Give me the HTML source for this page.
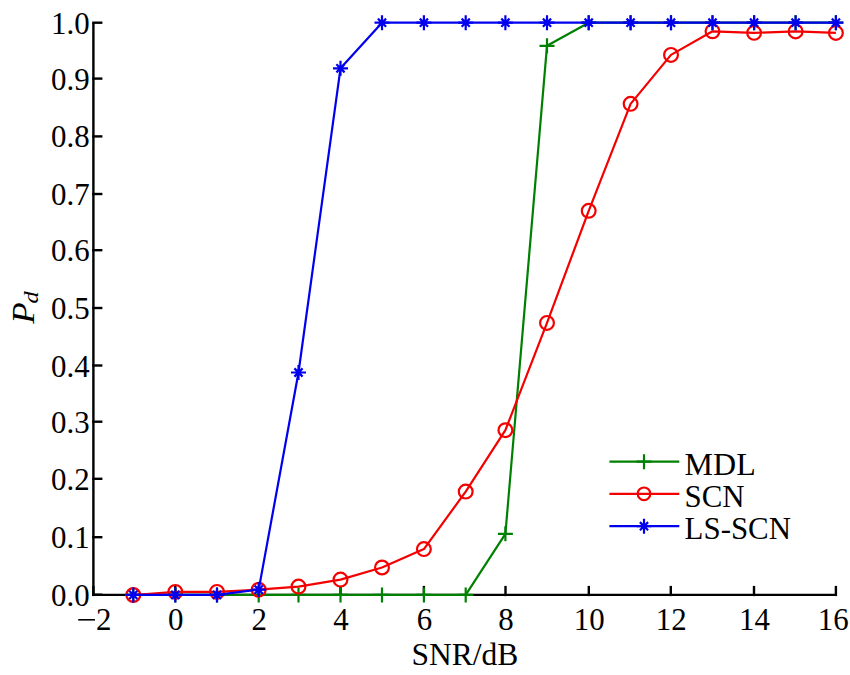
<!DOCTYPE html>
<html><head><meta charset="utf-8"><style>
html,body{margin:0;padding:0;background:#fff;width:850px;height:675px;overflow:hidden}
svg{display:block}
text{font-family:"Liberation Serif",serif;font-size:32px;fill:#000}
</style></head><body>
<svg width="850" height="675" viewBox="0 0 850 675">
<path d="M93.40 22.7V594.90H835.9" stroke="#000" stroke-width="2.4" fill="none" stroke-linejoin="miter"/>
<path d="M92.20 594.70H102.40" stroke="#000" stroke-width="2.4"/>
<path d="M92.20 537.20H102.40" stroke="#000" stroke-width="2.4"/>
<path d="M92.20 478.80H102.40" stroke="#000" stroke-width="2.4"/>
<path d="M92.20 421.70H102.40" stroke="#000" stroke-width="2.4"/>
<path d="M92.20 365.50H102.40" stroke="#000" stroke-width="2.4"/>
<path d="M92.20 308.00H102.40" stroke="#000" stroke-width="2.4"/>
<path d="M92.20 250.20H102.40" stroke="#000" stroke-width="2.4"/>
<path d="M92.20 194.00H102.40" stroke="#000" stroke-width="2.4"/>
<path d="M92.20 136.40H102.40" stroke="#000" stroke-width="2.4"/>
<path d="M92.20 78.60H102.40" stroke="#000" stroke-width="2.4"/>
<path d="M92.20 22.70H102.40" stroke="#000" stroke-width="2.4"/>
<path d="M93.40 596.10V585.90" stroke="#000" stroke-width="2.4"/>
<path d="M175.30 596.10V585.90" stroke="#000" stroke-width="2.4"/>
<path d="M258.70 596.10V585.90" stroke="#000" stroke-width="2.4"/>
<path d="M340.50 596.10V585.90" stroke="#000" stroke-width="2.4"/>
<path d="M423.90 596.10V585.90" stroke="#000" stroke-width="2.4"/>
<path d="M505.50 596.10V585.90" stroke="#000" stroke-width="2.4"/>
<path d="M588.80 596.10V585.90" stroke="#000" stroke-width="2.4"/>
<path d="M670.80 596.10V585.90" stroke="#000" stroke-width="2.4"/>
<path d="M754.00 596.10V585.90" stroke="#000" stroke-width="2.4"/>
<path d="M835.90 596.10V585.90" stroke="#000" stroke-width="2.4"/>
<text transform="translate(89.60 605.70) scale(0.965 1)" text-anchor="end">0.0</text>
<text transform="translate(89.60 548.20) scale(0.965 1)" text-anchor="end">0.1</text>
<text transform="translate(89.60 489.80) scale(0.965 1)" text-anchor="end">0.2</text>
<text transform="translate(89.60 432.70) scale(0.965 1)" text-anchor="end">0.3</text>
<text transform="translate(89.60 376.50) scale(0.965 1)" text-anchor="end">0.4</text>
<text transform="translate(89.60 319.00) scale(0.965 1)" text-anchor="end">0.5</text>
<text transform="translate(89.60 261.20) scale(0.965 1)" text-anchor="end">0.6</text>
<text transform="translate(89.60 205.00) scale(0.965 1)" text-anchor="end">0.7</text>
<text transform="translate(89.60 147.40) scale(0.965 1)" text-anchor="end">0.8</text>
<text transform="translate(89.60 89.60) scale(0.965 1)" text-anchor="end">0.9</text>
<text transform="translate(89.60 33.70) scale(0.965 1)" text-anchor="end">1.0</text>
<path d="M78.2 619.8H95" stroke="#000" stroke-width="1.6"/>
<text transform="translate(95.90 630.30) scale(0.965 1)">2</text>
<text transform="translate(175.80 630.30) scale(0.965 1)" text-anchor="middle">0</text>
<text transform="translate(259.20 630.30) scale(0.965 1)" text-anchor="middle">2</text>
<text transform="translate(341.00 630.30) scale(0.965 1)" text-anchor="middle">4</text>
<text transform="translate(424.40 630.30) scale(0.965 1)" text-anchor="middle">6</text>
<text transform="translate(506.00 630.30) scale(0.965 1)" text-anchor="middle">8</text>
<text transform="translate(589.30 630.30) scale(0.965 1)" text-anchor="middle">10</text>
<text transform="translate(671.30 630.30) scale(0.965 1)" text-anchor="middle">12</text>
<text transform="translate(754.50 630.30) scale(0.965 1)" text-anchor="middle">14</text>
<text transform="translate(833.20 630.30) scale(0.965 1)" text-anchor="middle">16</text>
<text transform="translate(464.80 665.30) scale(0.985 1)" text-anchor="middle">SNR/dB</text>
<g transform="translate(34.3 323.7) rotate(-90) scale(1.1 1)"><text font-style="italic" font-size="31">P<tspan font-size="22" dy="3.4" dx="-1.2">d</tspan></text></g>
<polyline points="133.30,594.90 175.30,594.90 217.00,594.90 258.70,594.90 298.50,594.90 340.50,594.90 382.00,594.90 423.90,594.90 465.70,594.90 505.40,533.85 547.00,45.80 588.70,22.70 630.60,22.70 671.00,22.70 712.50,22.70 754.10,22.70 795.60,22.70 835.90,22.70" stroke="#008000" stroke-width="2.2" fill="none" stroke-linejoin="round"/>
<path d="M125.80 594.90H140.80M133.30 587.40V602.40" stroke="#008000" stroke-width="2.2" fill="none"/>
<path d="M167.80 594.90H182.80M175.30 587.40V602.40" stroke="#008000" stroke-width="2.2" fill="none"/>
<path d="M209.50 594.90H224.50M217.00 587.40V602.40" stroke="#008000" stroke-width="2.2" fill="none"/>
<path d="M251.20 594.90H266.20M258.70 587.40V602.40" stroke="#008000" stroke-width="2.2" fill="none"/>
<path d="M291.00 594.90H306.00M298.50 587.40V602.40" stroke="#008000" stroke-width="2.2" fill="none"/>
<path d="M333.00 594.90H348.00M340.50 587.40V602.40" stroke="#008000" stroke-width="2.2" fill="none"/>
<path d="M374.50 594.90H389.50M382.00 587.40V602.40" stroke="#008000" stroke-width="2.2" fill="none"/>
<path d="M416.40 594.90H431.40M423.90 587.40V602.40" stroke="#008000" stroke-width="2.2" fill="none"/>
<path d="M458.20 594.90H473.20M465.70 587.40V602.40" stroke="#008000" stroke-width="2.2" fill="none"/>
<path d="M497.90 533.85H512.90M505.40 526.35V541.35" stroke="#008000" stroke-width="2.2" fill="none"/>
<path d="M539.50 45.80H554.50M547.00 38.30V53.30" stroke="#008000" stroke-width="2.2" fill="none"/>
<path d="M581.20 22.70H596.20M588.70 15.20V30.20" stroke="#008000" stroke-width="2.2" fill="none"/>
<path d="M623.10 22.70H638.10M630.60 15.20V30.20" stroke="#008000" stroke-width="2.2" fill="none"/>
<path d="M663.50 22.70H678.50M671.00 15.20V30.20" stroke="#008000" stroke-width="2.2" fill="none"/>
<path d="M705.00 22.70H720.00M712.50 15.20V30.20" stroke="#008000" stroke-width="2.2" fill="none"/>
<path d="M746.60 22.70H761.60M754.10 15.20V30.20" stroke="#008000" stroke-width="2.2" fill="none"/>
<path d="M788.10 22.70H803.10M795.60 15.20V30.20" stroke="#008000" stroke-width="2.2" fill="none"/>
<path d="M828.40 22.70H843.40M835.90 15.20V30.20" stroke="#008000" stroke-width="2.2" fill="none"/>
<polyline points="133.30,595.00 175.30,591.90 217.00,591.90 258.70,589.70 298.50,586.60 340.50,579.60 382.00,567.50 423.90,549.10 465.70,491.60 505.40,430.20 547.00,322.90 588.70,210.80 630.60,103.85 671.00,54.90 712.50,31.30 754.10,32.85 795.60,31.40 835.90,32.90" stroke="#f50000" stroke-width="2.2" fill="none" stroke-linejoin="round"/>
<circle cx="133.30" cy="595.00" r="6.9" stroke="#f50000" stroke-width="2.2" fill="none"/>
<circle cx="175.30" cy="591.90" r="6.9" stroke="#f50000" stroke-width="2.2" fill="none"/>
<circle cx="217.00" cy="591.90" r="6.9" stroke="#f50000" stroke-width="2.2" fill="none"/>
<circle cx="258.70" cy="589.70" r="6.9" stroke="#f50000" stroke-width="2.2" fill="none"/>
<circle cx="298.50" cy="586.60" r="6.9" stroke="#f50000" stroke-width="2.2" fill="none"/>
<circle cx="340.50" cy="579.60" r="6.9" stroke="#f50000" stroke-width="2.2" fill="none"/>
<circle cx="382.00" cy="567.50" r="6.9" stroke="#f50000" stroke-width="2.2" fill="none"/>
<circle cx="423.90" cy="549.10" r="6.9" stroke="#f50000" stroke-width="2.2" fill="none"/>
<circle cx="465.70" cy="491.60" r="6.9" stroke="#f50000" stroke-width="2.2" fill="none"/>
<circle cx="505.40" cy="430.20" r="6.9" stroke="#f50000" stroke-width="2.2" fill="none"/>
<circle cx="547.00" cy="322.90" r="6.9" stroke="#f50000" stroke-width="2.2" fill="none"/>
<circle cx="588.70" cy="210.80" r="6.9" stroke="#f50000" stroke-width="2.2" fill="none"/>
<circle cx="630.60" cy="103.85" r="6.9" stroke="#f50000" stroke-width="2.2" fill="none"/>
<circle cx="671.00" cy="54.90" r="6.9" stroke="#f50000" stroke-width="2.2" fill="none"/>
<circle cx="712.50" cy="31.30" r="6.9" stroke="#f50000" stroke-width="2.2" fill="none"/>
<circle cx="754.10" cy="32.85" r="6.9" stroke="#f50000" stroke-width="2.2" fill="none"/>
<circle cx="795.60" cy="31.40" r="6.9" stroke="#f50000" stroke-width="2.2" fill="none"/>
<circle cx="835.90" cy="32.90" r="6.9" stroke="#f50000" stroke-width="2.2" fill="none"/>
<polyline points="133.30,594.90 175.30,594.90 217.00,594.90 258.70,589.60 298.50,372.50 340.50,68.30 382.00,22.70 423.90,22.70 465.70,22.70 505.40,22.70 547.00,22.70 588.70,22.70 630.60,22.70 671.00,22.70 712.50,22.70 754.10,22.70 795.60,22.70 835.90,22.70" stroke="#0000ee" stroke-width="2.2" fill="none" stroke-linejoin="round"/>
<path d="M125.80 594.90H140.80M133.30 587.40V602.40M129.20 590.80L137.40 599.00M129.20 599.00L137.40 590.80" stroke="#0000ee" stroke-width="2.2" fill="none"/>
<path d="M167.80 594.90H182.80M175.30 587.40V602.40M171.20 590.80L179.40 599.00M171.20 599.00L179.40 590.80" stroke="#0000ee" stroke-width="2.2" fill="none"/>
<path d="M209.50 594.90H224.50M217.00 587.40V602.40M212.90 590.80L221.10 599.00M212.90 599.00L221.10 590.80" stroke="#0000ee" stroke-width="2.2" fill="none"/>
<path d="M251.20 589.60H266.20M258.70 582.10V597.10M254.60 585.50L262.80 593.70M254.60 593.70L262.80 585.50" stroke="#0000ee" stroke-width="2.2" fill="none"/>
<path d="M291.00 372.50H306.00M298.50 365.00V380.00M294.40 368.40L302.60 376.60M294.40 376.60L302.60 368.40" stroke="#0000ee" stroke-width="2.2" fill="none"/>
<path d="M333.00 68.30H348.00M340.50 60.80V75.80M336.40 64.20L344.60 72.40M336.40 72.40L344.60 64.20" stroke="#0000ee" stroke-width="2.2" fill="none"/>
<path d="M374.50 22.70H389.50M382.00 15.20V30.20M377.90 18.60L386.10 26.80M377.90 26.80L386.10 18.60" stroke="#0000ee" stroke-width="2.2" fill="none"/>
<path d="M416.40 22.70H431.40M423.90 15.20V30.20M419.80 18.60L428.00 26.80M419.80 26.80L428.00 18.60" stroke="#0000ee" stroke-width="2.2" fill="none"/>
<path d="M458.20 22.70H473.20M465.70 15.20V30.20M461.60 18.60L469.80 26.80M461.60 26.80L469.80 18.60" stroke="#0000ee" stroke-width="2.2" fill="none"/>
<path d="M497.90 22.70H512.90M505.40 15.20V30.20M501.30 18.60L509.50 26.80M501.30 26.80L509.50 18.60" stroke="#0000ee" stroke-width="2.2" fill="none"/>
<path d="M539.50 22.70H554.50M547.00 15.20V30.20M542.90 18.60L551.10 26.80M542.90 26.80L551.10 18.60" stroke="#0000ee" stroke-width="2.2" fill="none"/>
<path d="M581.20 22.70H596.20M588.70 15.20V30.20M584.60 18.60L592.80 26.80M584.60 26.80L592.80 18.60" stroke="#0000ee" stroke-width="2.2" fill="none"/>
<path d="M623.10 22.70H638.10M630.60 15.20V30.20M626.50 18.60L634.70 26.80M626.50 26.80L634.70 18.60" stroke="#0000ee" stroke-width="2.2" fill="none"/>
<path d="M663.50 22.70H678.50M671.00 15.20V30.20M666.90 18.60L675.10 26.80M666.90 26.80L675.10 18.60" stroke="#0000ee" stroke-width="2.2" fill="none"/>
<path d="M705.00 22.70H720.00M712.50 15.20V30.20M708.40 18.60L716.60 26.80M708.40 26.80L716.60 18.60" stroke="#0000ee" stroke-width="2.2" fill="none"/>
<path d="M746.60 22.70H761.60M754.10 15.20V30.20M750.00 18.60L758.20 26.80M750.00 26.80L758.20 18.60" stroke="#0000ee" stroke-width="2.2" fill="none"/>
<path d="M788.10 22.70H803.10M795.60 15.20V30.20M791.50 18.60L799.70 26.80M791.50 26.80L799.70 18.60" stroke="#0000ee" stroke-width="2.2" fill="none"/>
<path d="M828.40 22.70H843.40M835.90 15.20V30.20M831.80 18.60L840.00 26.80M831.80 26.80L840.00 18.60" stroke="#0000ee" stroke-width="2.2" fill="none"/>
<path d="M609.4 461.7H679.3" stroke="#008000" stroke-width="2.2"/>
<path d="M636.50 461.70H651.50M644.00 454.20V469.20" stroke="#008000" stroke-width="2.2" fill="none"/>
<text transform="translate(684.60 474.50) scale(1.0 1)">MDL</text>
<path d="M609.4 493.8H679.3" stroke="#f50000" stroke-width="2.2"/>
<circle cx="644.00" cy="493.80" r="6.3" stroke="#f50000" stroke-width="2.2" fill="none"/>
<text transform="translate(684.60 506.60) scale(0.965 1)">SCN</text>
<path d="M609.4 526.2H679.3" stroke="#0000ee" stroke-width="2.2"/>
<path d="M636.50 526.20H651.50M644.00 518.70V533.70M639.90 522.10L648.10 530.30M639.90 530.30L648.10 522.10" stroke="#0000ee" stroke-width="2.2" fill="none"/>
<text transform="translate(684.60 539.00) scale(0.965 1)">LS-SCN</text>
</svg>
</body></html>
